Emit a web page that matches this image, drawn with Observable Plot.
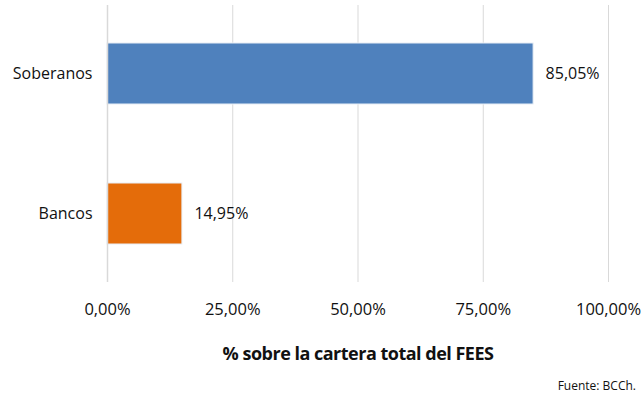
<!DOCTYPE html>
<html>
<head>
<meta charset="utf-8">
<script src="https://cdn.jsdelivr.net/npm/d3@7"></script>
<script src="https://cdn.jsdelivr.net/npm/@observablehq/plot@0.6"></script>
<style>
  body { margin: 0; background: #fff; font-family: "Open Sans", sans-serif; }
  #chart { width: 642px; }
  .caption { width: 636px; text-align: right; font-size: 12px; color: #111; margin-top: 5px; }
</style>
</head>
<body>
<div id="chart"></div>
<script>
const categories = ["Soberanos", "Bancos"];
const values = [85.05, 14.95];
const colors = ["#4F81BD", "#E46C0A"];
const xTicks = [0, 25, 50, 75, 100];
const axisTitle = "% sobre la cartera total del FEES";
const source = "Fuente: BCCh.";

const data = categories.map((c, i) => ({ category: c, value: values[i], color: colors[i] }));
const fmt = d => d.toFixed(2).replace(".", ",") + "%";

const chart = Plot.plot({
  width: 642,
  height: 372,
  marginLeft: 107,
  marginRight: 34,
  marginTop: 5,
  marginBottom: 90,
  style: { fontFamily: "'Open Sans', sans-serif", fontSize: "14px", color: "#111" },
  x: { domain: [0, 100], ticks: xTicks, tickFormat: fmt, tickSize: 0, tickPadding: 21,
       label: axisTitle, labelAnchor: "center", labelArrow: "none", labelOffset: 77 },
  y: { domain: categories, paddingInner: 0.567, paddingOuter: 0.266, label: null, tickSize: 0, tickPadding: 15 },
  marks: [
    Plot.gridX(xTicks, { stroke: "#d9d9d9", strokeOpacity: 1, strokeWidth: 1 }),
    Plot.barX(data, { y: "category", x: "value", fill: "color", stroke: "#e8eef6", strokeWidth: 1, inset: 0 }),
    Plot.text(data, { y: "category", x: "value", text: d => fmt(d.value), textAnchor: "start", dx: 12, fontSize: 16, fill: "#111" }),
    Plot.ruleX([0], { stroke: "#d9d9d9", strokeWidth: 1.5 })
  ]
});
document.getElementById("chart").appendChild(chart);
chart.querySelectorAll("g[aria-label='y-axis tick label']").forEach(g => g.setAttribute("font-size", "16px"));
chart.querySelectorAll("g[aria-label='x-axis tick label']").forEach(g => g.setAttribute("font-size", "16.5px"));
chart.querySelectorAll("g[aria-label='x-axis label'] text").forEach(t => {
  t.setAttribute("font-weight", "bold");
  t.setAttribute("font-size", "18px");
  t.setAttribute("letter-spacing", "-0.5px");
});
const cap = document.createElement("div");
cap.className = "caption";
cap.textContent = source;
document.body.appendChild(cap);
</script>
</body>
</html>
